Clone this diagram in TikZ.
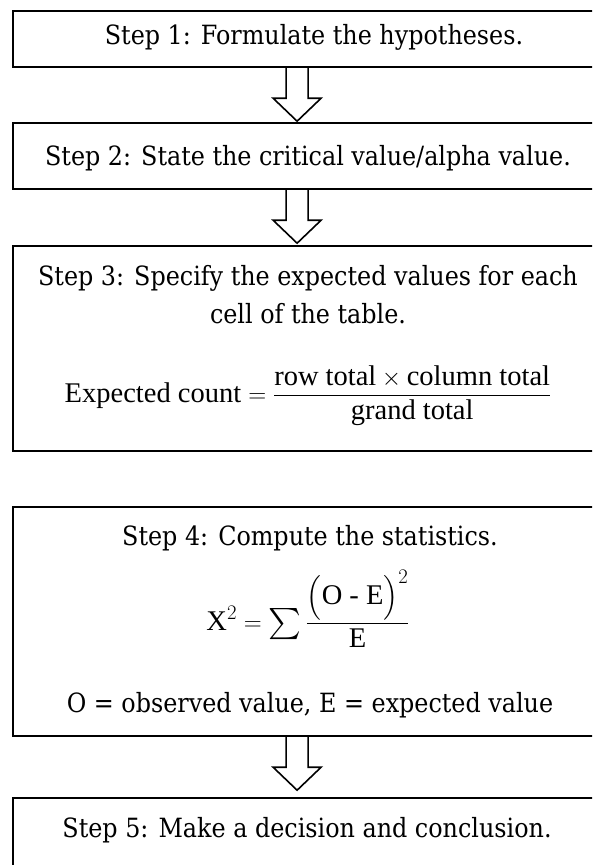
\documentclass[tikz,border=0pt]{standalone}
\usepackage{amsmath}
\usepackage{fontspec}
\setmainfont{DejaVu Serif Condensed}
\newfontfamily\formfont{Liberation Serif}
\usetikzlibrary{calc,positioning}

\tikzset{
  stepbox/.style={draw,line width=2.2pt,minimum width=592pt,anchor=north west,inner sep=0pt},
  steptext/.style={font=\fontsize{26.5}{34}\selectfont,anchor=base,inner sep=0pt},
  formtext/.style={font=\formfont\fontsize{28.5}{34}\selectfont,anchor=base,inner sep=0pt},
  hollow/.style={draw,line width=1.6pt,line join=miter},
}

% a somewhat larger summation sign
\newcommand{\bigsum}{\mathop{\vcenter{\hbox{\scalebox{1.25}{$\sum$}}}}}

% hollow block arrow hanging below a box, pointing at the next one
\newcommand{\blockarrow}[2]{%
  \draw[hollow] ($(#1.south)+(-23,0)$) -- ($(#1.south)+(-23,30)$)
    -- ($(#1.south)+(-36,30)$) -- ($(#1.south)+(-12,53)$) coordinate (#1-#2)
    -- ($(#1.south)+(12,30)$) -- ($(#1.south)+(-1,30)$)
    -- ($(#1.south)+(-1,0)$);
}

\begin{document}
\begin{tikzpicture}[x=1pt,y=-1pt]
\useasboundingbox (0,0) rectangle (592,865);
\clip (0,0) rectangle (592,865);

% boxes
\node[stepbox,minimum height=56pt] (step1) at (12,10) {};
\node[stepbox,minimum height=66pt] (step2) at (12,122) {};
\node[stepbox,minimum height=205pt] (step3) at (12,245) {};
\node[stepbox,minimum height=229pt] (step4) at (12,506) {};
\node[stepbox,minimum height=120pt] (step5) at (12,797) {};

% texts
\node[steptext] (txt1) at (314,44) {Step 1: Formulate the hypotheses.};
\node[steptext] (txt2) at (308,165) {Step 2: State the critical value/alpha value.};
\node[steptext] (txt3) at (308,285) {Step 3: Specify the expected values for each};
\node[steptext] (txt3b) at (308,323) {cell of the table.};
\node[formtext] (form3) at (308,402)
  {Expected count $=\dfrac{\text{row total}\times\text{column total}}{\text{grand total}}$};
\node[steptext] (txt4) at (310,545) {Step 4: Compute the statistics.};
\node[formtext] (form4) at (308,630)
  {$\text{X}^{2}=\bigsum\dfrac{\Bigl(\text{O - E}\Bigr)^{2}}{\text{E}}$};
\node[steptext] (note4) at (310,712) {O = observed value, E = expected value};
\node[steptext] (txt5) at (307,837) {Step 5: Make a decision and conclusion.};

% arrows
\blockarrow{step1}{step2}
\blockarrow{step2}{step3}
\blockarrow{step4}{step5}
\end{tikzpicture}
\end{document}
